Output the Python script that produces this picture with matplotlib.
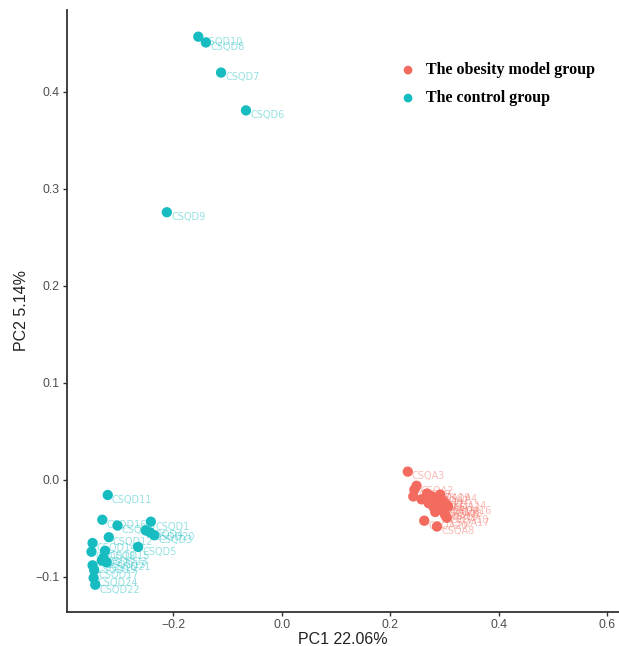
import matplotlib

matplotlib.use("Agg")
import matplotlib.pyplot as plt

# PCA scores
control_names = [
    "CSQD10", "CSQD8", "CSQD7", "CSQD6", "CSQD9",
    "CSQD11", "CSQD16", "CSQD2", "CSQD1", "CSQD4", "CSQD20", "CSQD3",
    "CSQD12", "CSQD5", "CSQD14", "CSQD18", "CSQD15", "CSQD23", "CSQD13",
    "CSQD21", "CSQD19", "CSQD17", "CSQD24", "CSQD22",
]
control_pc1 = [
    -0.154, -0.140, -0.112, -0.066, -0.212,
    -0.321, -0.331, -0.303, -0.2415, -0.251, -0.243, -0.235,
    -0.319, -0.265, -0.349, -0.351, -0.326, -0.329, -0.332,
    -0.323, -0.349, -0.346, -0.347, -0.344,
]
control_pc2 = [
    0.457, 0.451, 0.420, 0.381, 0.276,
    -0.0155, -0.041, -0.047, -0.043, -0.052, -0.054, -0.057,
    -0.059, -0.069, -0.065, -0.074, -0.073, -0.080, -0.083,
    -0.085, -0.088, -0.093, -0.101, -0.108,
]

obesity_names = [
    "CSQA3", "CSQA2", "CSQA7", "CSQA9", "CSQA19", "CSQA1", "CSQA4",
    "CSQA5", "CSQA12", "CSQA14", "CSQA11", "CSQA13", "CSQA16", "CSQA6",
    "CSQA10", "CSQA17", "CSQA15", "CSQA18", "CSQA20", "CSQA8",
]
obesity_pc1 = [
    0.2324, 0.2486, 0.2446, 0.2426, 0.2679, 0.277, 0.2923,
    0.271, 0.2862, 0.2983, 0.2578, 0.2831, 0.3065, 0.2953,
    0.3014, 0.3044, 0.280, 0.2902, 0.2628, 0.2862,
]
obesity_pc2 = [
    0.0086, -0.006, -0.010, -0.017, -0.014, -0.017, -0.015,
    -0.024, -0.024, -0.022, -0.020, -0.033, -0.027, -0.031,
    -0.036, -0.039, -0.028, -0.030, -0.042, -0.048,
]

red = "#F26B5E"
teal = "#16BCC0"

fig = plt.figure(figsize=(6.19, 6.46), dpi=100)
ax = fig.add_axes([67.3 / 619, 34.3 / 646, 551.7 / 619, 601.7 / 646])

groups = [
    ("The obesity model group", obesity_names, obesity_pc1, obesity_pc2, red),
    ("The control group", control_names, control_pc1, control_pc2, teal),
]
for label, names, xs, ys, color in groups:
    ax.scatter(xs, ys, s=55, color=color, edgecolors="none", label=label, zorder=3)
    for name, x, y in zip(names, xs, ys):
        ax.annotate(
            name, (x, y), xytext=(3, -3.5), textcoords="offset points",
            ha="left", va="center", fontsize=7, color=color, alpha=0.45,
            family="DejaVu Sans", zorder=2,
        )

ax.set_xlim(-0.3956, 0.622)
ax.set_ylim(-0.1358, 0.4845)
ax.set_xticks([-0.2, 0.0, 0.2, 0.4, 0.6])
ax.set_yticks([-0.1, 0.0, 0.1, 0.2, 0.3, 0.4])
ax.set_xticklabels(["\u22120.2", "0.0", "0.2", "0.4", "0.6"])
ax.set_yticklabels(["\u22120.1", "0.0", "0.1", "0.2", "0.3", "0.4"])

for side in ("top", "right"):
    ax.spines[side].set_visible(False)
for side in ("left", "bottom"):
    ax.spines[side].set_color("#333333")
    ax.spines[side].set_linewidth(1.3)

ax.tick_params(length=3, width=1, color="#333333", labelcolor="#4D4D4D",
               labelsize=8.8, pad=2.5)
for tick in ax.get_xticklabels() + ax.get_yticklabels():
    tick.set_family("Liberation Sans")

ax.set_xlabel("PC1 22.06%", fontsize=11.5, family="Liberation Sans",
              color="#222222", labelpad=0.5)
ax.set_ylabel("PC2 5.14%", fontsize=11.5, family="Liberation Sans",
              color="#222222", labelpad=5)

ax.legend(
    loc="upper left", bbox_to_anchor=(0.58, 0.937), frameon=False,
    prop={"family": "Liberation Serif", "weight": "bold", "size": 11.5},
    handletextpad=0.75, labelspacing=0.75, markerscale=0.85,
    handlelength=0.8,
)

fig.savefig("out.png", dpi=100)
